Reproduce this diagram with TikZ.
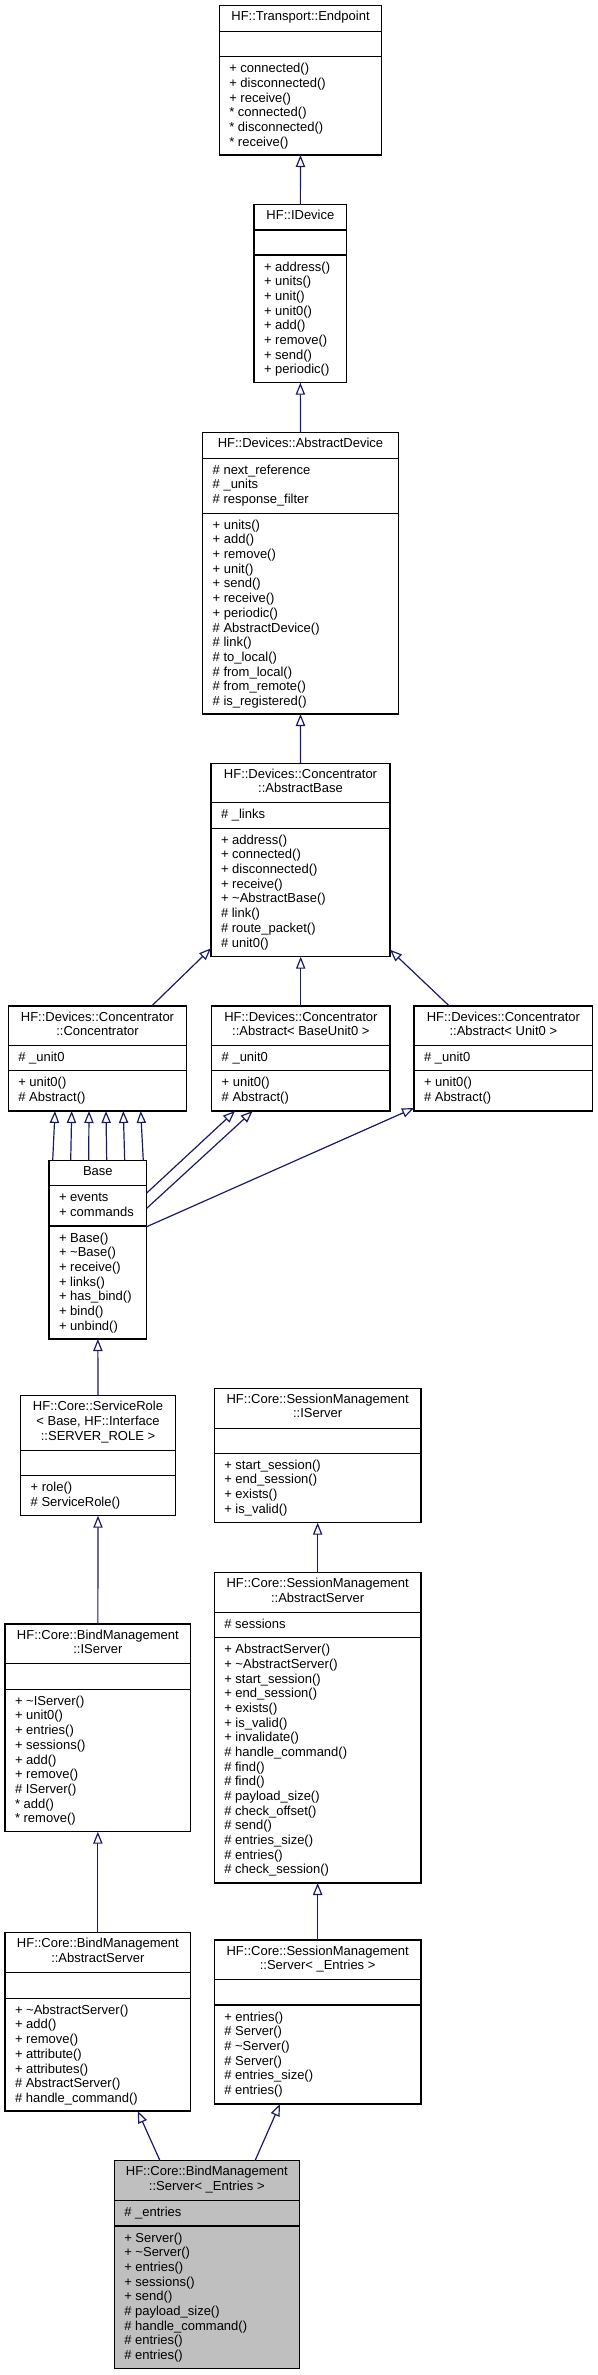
\documentclass[tikz,border=0pt]{standalone}
\usepackage{fontspec}
\setmainfont{Liberation Sans}
\usetikzlibrary{arrows.meta,fit,calc}
\definecolor{edgeblue}{HTML}{191970}
\definecolor{boxgray}{HTML}{BFBFBF}
\newcommand{\umlclass}[8]{%
  \node[umlbox, fill=#8, fit={(#2,#4) (#3,#7)}] (#1) {};
  \draw[sepline] (#2,#5) -- (#3,#5) (#2,#6) -- (#3,#6);
}
\newcommand{\ctitle}[4]{%
  \foreach \mt [count=\i] in {#4} {\node[txt, anchor=base] (#1-t\i) at ({#2}, {#3+15+(\i-1)*14.67}) {\mt};}
}
\newcommand{\cmem}[5]{%
  \foreach \mt [count=\i] in {#5} {\node[txt, anchor=base west] (#1-#2\i) at ({#3+10}, {#4+16+(\i-1)*14.67}) {\mt};}
}
\begin{document}
\begin{tikzpicture}[x=0.75pt,y=-0.75pt,
  txt/.style={inner sep=0pt, outer sep=0pt, font=\fontsize{9.75pt}{11pt}\selectfont},
  umlbox/.style={draw=black, line width=0.9pt, inner sep=0pt, outer sep=0pt},
  sepline/.style={draw=black, line width=0.9pt},
  inh/.style={draw=edgeblue, line width=0.9pt, -{Triangle[open,length=9pt,width=7pt]}}]
\useasboundingbox (0,0) rectangle (598,2375);

% HF::Transport::Endpoint
\umlclass{endpoint}{219.3}{381.7}{5.7}{31.7}{56.7}{155}{white}
\ctitle{endpoint}{300.5}{5.7}{HF::Transport::Endpoint}
\cmem{endpoint}{m}{219.3}{56.7}{+ connected(), + disconnected(), + receive(), * connected(), * disconnected(), * receive()}

% HF::IDevice
\umlclass{idevice}{254}{346.7}{204.7}{230}{255}{382.7}{white}
\ctitle{idevice}{300.4}{204.7}{HF::IDevice}
\cmem{idevice}{m}{254}{255}{+ address(), + units(), + unit(), + unit0(), + add(), + remove(), + send(), + periodic()}

% HF::Devices::AbstractDevice
\umlclass{abstractdevice}{202.7}{398.3}{432.7}{458.3}{513.3}{714}{white}
\ctitle{abstractdevice}{300.5}{432.7}{HF::Devices::AbstractDevice}
\cmem{abstractdevice}{a}{202.7}{458.3}{\# next\_reference, \# \_units, \# response\_filter}
\cmem{abstractdevice}{m}{202.7}{513.3}{+ units(), + add(), + remove(), + unit(), + send(), + receive(), + periodic(), \# AbstractDevice(), \# link(), \# to\_local(), \# from\_local(), \# from\_remote(), \# is\_registered()}

% HF::Devices::Concentrator::AbstractBase
\umlclass{abstractbase}{211}{390}{763.3}{802.7}{828.3}{956.7}{white}
\ctitle{abstractbase}{300.5}{763.3}{HF::Devices::Concentrator, ::AbstractBase}
\cmem{abstractbase}{a}{211}{802.7}{\# \_links}
\cmem{abstractbase}{m}{211}{828.3}{+ address(), + connected(), + disconnected(), + receive(), + \textasciitilde AbstractBase(), \# link(), \# route\_packet(), \# unit0()}

% Concentrator
\umlclass{concentrator}{8.3}{186.7}{1006}{1045.7}{1070.7}{1111}{white}
\ctitle{concentrator}{97.5}{1006}{HF::Devices::Concentrator, ::Concentrator}
\cmem{concentrator}{a}{8.3}{1045.7}{\# \_unit0}
\cmem{concentrator}{m}{8.3}{1070.7}{+ unit0(), \# Abstract()}

% Abstract< BaseUnit0 >
\umlclass{absbase0}{211.7}{390}{1006}{1045.7}{1070.7}{1111}{white}
\ctitle{absbase0}{300.85}{1006}{HF::Devices::Concentrator, ::Abstract< BaseUnit0 >}
\cmem{absbase0}{a}{211.7}{1045.7}{\# \_unit0}
\cmem{absbase0}{m}{211.7}{1070.7}{+ unit0(), \# Abstract()}

% Abstract< Unit0 >
\umlclass{absunit0}{414}{592.7}{1006}{1045.7}{1070.7}{1111}{white}
\ctitle{absunit0}{503.35}{1006}{HF::Devices::Concentrator, ::Abstract< Unit0 >}
\cmem{absunit0}{a}{414}{1045.7}{\# \_unit0}
\cmem{absunit0}{m}{414}{1070.7}{+ unit0(), \# Abstract()}

% Base
\umlclass{base}{49}{146.7}{1160.7}{1185.7}{1226}{1339}{white}
\ctitle{base}{97.85}{1160.7}{Base}
\cmem{base}{a}{49}{1185.7}{+ events, + commands}
\cmem{base}{m}{49}{1226}{+ Base(), + \textasciitilde Base(), + receive(), + links(), + has\_bind(), + bind(), + unbind()}

% ServiceRole
\umlclass{servicerole}{20.7}{175.3}{1395.7}{1450.7}{1475.7}{1515.7}{white}
\ctitle{servicerole}{98}{1395.7}{HF::Core::ServiceRole, {< Base, HF::Interface}, ::SERVER\_ROLE >}
\cmem{servicerole}{m}{20.7}{1475.7}{+ role(), \# ServiceRole()}

% BindManagement::IServer
\umlclass{bmiserver}{5}{190.7}{1624}{1663.3}{1689.3}{1831.7}{white}
\ctitle{bmiserver}{97.85}{1624}{HF::Core::BindManagement, ::IServer}
\cmem{bmiserver}{m}{5}{1689.3}{+ \textasciitilde IServer(), + unit0(), + entries(), + sessions(), + add(), + remove(), \# IServer(), * add(), * remove()}

% BindManagement::AbstractServer
\umlclass{bmabstract}{5}{190.7}{1932.7}{1972.7}{1998.3}{2111}{white}
\ctitle{bmabstract}{97.85}{1932.7}{HF::Core::BindManagement, ::AbstractServer}
\cmem{bmabstract}{m}{5}{1998.3}{+ \textasciitilde AbstractServer(), + add(), + remove(), + attribute(), + attributes(), \# AbstractServer(), \# handle\_command()}

% SessionManagement::IServer
\umlclass{smiserver}{214.3}{421}{1388.3}{1428.3}{1453.3}{1522.7}{white}
\ctitle{smiserver}{317.65}{1388.3}{HF::Core::SessionManagement, ::IServer}
\cmem{smiserver}{m}{214.3}{1453.3}{+ start\_session(), + end\_session(), + exists(), + is\_valid()}

% SessionManagement::AbstractServer
\umlclass{smabstract}{214.3}{421}{1572.7}{1612.5}{1637.7}{1883}{white}
\ctitle{smabstract}{317.65}{1572.7}{HF::Core::SessionManagement, ::AbstractServer}
\cmem{smabstract}{a}{214.3}{1612.5}{\# sessions}
\cmem{smabstract}{m}{214.3}{1637.7}{+ AbstractServer(), + \textasciitilde AbstractServer(), + start\_session(), + end\_session(), + exists(), + is\_valid(), + invalidate(), \# handle\_command(), \# find(), \# find(), \# payload\_size(), \# check\_offset(), \# send(), \# entries\_size(), \# entries(), \# check\_session()}

% SessionManagement::Server< _Entries >
\umlclass{smserver}{214.3}{421}{1940}{1979.3}{2005}{2104}{white}
\ctitle{smserver}{317.65}{1940}{HF::Core::SessionManagement, ::Server< \_Entries >}
\cmem{smserver}{m}{214.3}{2005}{+ entries(), \# Server(), \# \textasciitilde Server(), \# Server(), \# entries\_size(), \# entries()}

% BindManagement::Server< _Entries >
\umlclass{bmserver}{114.3}{299.3}{2160.7}{2200.7}{2226}{2368.3}{boxgray}
\ctitle{bmserver}{206.8}{2160.7}{HF::Core::BindManagement, ::Server< \_Entries >}
\cmem{bmserver}{a}{114.3}{2200.7}{\# \_entries}
\cmem{bmserver}{m}{114.3}{2226}{+ Server(), + \textasciitilde Server(), + entries(), + sessions(), + send(), \# payload\_size(), \# handle\_command(), \# entries(), \# entries()}

% inheritance connectors
\draw[inh] (idevice.north) -- (endpoint.south);
\draw[inh] (abstractdevice.north) -- (idevice.south);
\draw[inh] (abstractbase.north) -- (abstractdevice.south);
\draw[inh] ($(concentrator.north west)+(143.4,0)$) -- ($(abstractbase.south west)+(0,-8.4)$);
\draw[inh] ($(absbase0.north west)+(89,0)$) -- ($(abstractbase.south west)+(89.7,0)$);
\draw[inh] ($(absunit0.north west)+(35.3,0)$) -- ($(abstractbase.south east)+(0,-7)$);
\foreach \bx/\cx in {3.7/46.7, 21.7/63.4, 39.7/80.7, 57.7/97.7, 75.7/115, 94.3/132.4}
  \draw[inh] ($(base.north west)+(\bx,0)$) -- ($(concentrator.south west)+(\cx,0)$);
\draw[inh] ($(base.north east)+(0,32.3)$) -- ($(absbase0.south west)+(23.3,0)$);
\draw[inh] ($(base.north east)+(0,47.6)$) -- ($(absbase0.south west)+(41,0)$);
\draw[inh] ($(base.north east)+(0,66)$) -- ($(absunit0.south west)+(0,-3)$);
\draw[inh] (servicerole.north) -- (base.south);
\draw[inh] (bmiserver.north) -- (servicerole.south);
\draw[inh] (bmabstract.north) -- (bmiserver.south);
\draw[inh] (smabstract.north) -- (smiserver.south);
\draw[inh] (smserver.north) -- (smabstract.south);
\draw[inh] ($(bmserver.north west)+(45.7,0)$) -- ($(bmabstract.south west)+(132.7,0)$);
\draw[inh] ($(bmserver.north west)+(140.7,0)$) -- ($(smserver.south west)+(65.7,0)$);
\end{tikzpicture}
\end{document}
